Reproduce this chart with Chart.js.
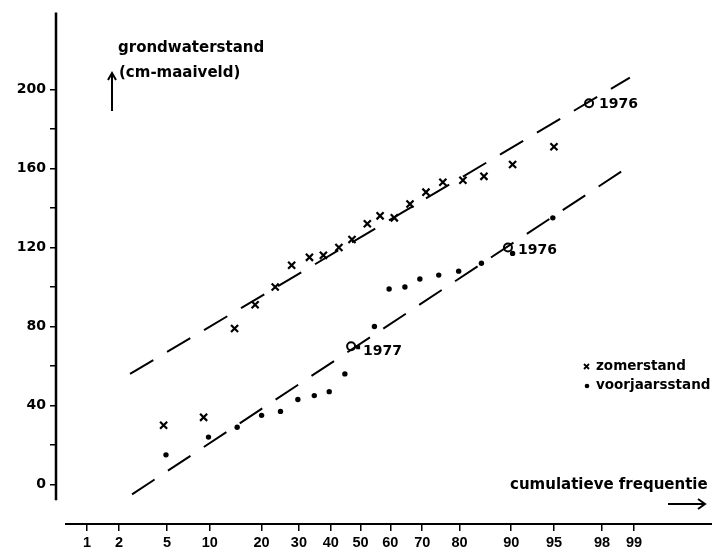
<!DOCTYPE html>
<html lang="nl">
<head>
    <meta charset="UTF-8">
    <title>Grondwaterstand - cumulatieve frequentie</title>
    <script src="https://cdn.jsdelivr.net/npm/chart.js"></script>
    <style>
        html, body {
            margin: 0;
            padding: 0;
            background: #ffffff;
        }
        .chart-container {
            width: 727px;
            height: 558px;
        }
        canvas {
            width: 727px !important;
            height: 558px !important;
        }
    </style>
</head>
<body>
    <div class="chart-container">
        <canvas id="gwChart" width="727" height="558"></canvas>
    </div>

    <script>
        // cumulatieve frequentie (%) and grondwaterstand (cm - maaiveld)
        const summerFreq = [4.7, 9.1, 14.2, 18.5, 23.4, 27.9, 33.2, 37.6, 42.7, 47.1, 52.3, 56.6, 61.3, 66.3, 71.1, 75.8, 80.8, 85.3, 90.2, 95.0];
        const summerLevel = [30, 34, 79, 91, 100, 111, 115, 116, 120, 124, 132, 136, 135, 142, 148, 153, 154, 156, 162, 171];

        const springFreq = [4.9, 9.8, 14.7, 20.0, 24.8, 29.7, 34.7, 39.5, 44.7, 54.7, 59.6, 64.7, 69.3, 74.7, 79.8, 84.8, 90.2, 94.9];
        const springLevel = [15, 24, 29, 35, 37, 43, 45, 47, 56, 80, 99, 100, 104, 106, 108, 112, 117, 135];

        // marked years (open circles)
        const yearLabels = ['1976', '1976', '1977'];
        const yearFreq = [97.4, 89.5, 46.8];
        const yearLevel = [193, 120, 70];

        // dashed lines drawn by hand through the points
        const summerLineFreq = [2.5, 98.9];
        const summerLineLevel = [56, 206];
        const springLineFreq = [2.6, 98.8];
        const springLineLevel = [-5, 160];

        const freqTicks = [1, 2, 5, 10, 20, 30, 40, 50, 60, 70, 80, 90, 95, 98, 99];
        const levelTicks = [0, 20, 40, 60, 80, 100, 120, 140, 160, 180, 200];

        // inverse normal cdf (Acklam), used for the probability scale
        function probit(p) {
            const a = [-39.69683028665376, 220.9460984245205, -275.9285104469687, 138.3577518672690, -30.66479806614716, 2.506628277459239];
            const b = [-54.47609879822406, 161.5858368580409, -155.6989798598866, 66.80131188771972, -13.28068155288572];
            const c = [-0.007784894002430293, -0.3223964580411365, -2.400758277161838, -2.549732539343734, 4.374664141464968, 2.938163982698783];
            const d = [0.007784695709041462, 0.3224671290700398, 2.445134137142996, 3.754408661907416];
            const pl = 0.02425;
            if (p < pl) {
                const q = Math.sqrt(-2 * Math.log(p));
                return (((((c[0] * q + c[1]) * q + c[2]) * q + c[3]) * q + c[4]) * q + c[5]) / ((((d[0] * q + d[1]) * q + d[2]) * q + d[3]) * q + 1);
            }
            if (p > 1 - pl) {
                const q = Math.sqrt(-2 * Math.log(1 - p));
                return -(((((c[0] * q + c[1]) * q + c[2]) * q + c[3]) * q + c[4]) * q + c[5]) / ((((d[0] * q + d[1]) * q + d[2]) * q + d[3]) * q + 1);
            }
            const q = p - 0.5;
            const r = q * q;
            return (((((a[0] * r + a[1]) * r + a[2]) * r + a[3]) * r + a[4]) * r + a[5]) * q / (((((b[0] * r + b[1]) * r + b[2]) * r + b[3]) * r + b[4]) * r + 1);
        }

        const toPoints = (freq, level) => freq.map((f, i) => ({ x: probit(f / 100), y: level[i] }));

        const FONT = 'DejaVu Sans';

        // axis lines, titles, arrows, year labels and key
        const decorations = {
            id: 'decorations',
            afterDatasetsDraw(chart) {
                const ctx = chart.ctx;
                const area = chart.chartArea;
                const xs = chart.scales.x;
                const ys = chart.scales.y;
                ctx.save();
                ctx.strokeStyle = '#000';
                ctx.fillStyle = '#000';

                // y axis line
                ctx.lineWidth = 2.5;
                ctx.beginPath();
                ctx.moveTo(area.left, ys.getPixelForValue(239));
                ctx.lineTo(area.left, ys.getPixelForValue(-8));
                ctx.stroke();

                // x axis line
                ctx.lineWidth = 2;
                ctx.beginPath();
                ctx.moveTo(area.left + 9, area.bottom);
                ctx.lineTo(area.right, area.bottom);
                ctx.stroke();

                // y title with arrow
                ctx.font = 'bold 15px ' + FONT;
                ctx.textAlign = 'left';
                ctx.textBaseline = 'alphabetic';
                ctx.fillText('grondwaterstand', 118, 52);
                ctx.fillText('(cm-maaiveld)', 119, 77);
                ctx.lineWidth = 2;
                ctx.beginPath();
                ctx.moveTo(112, 111);
                ctx.lineTo(112, 74);
                ctx.moveTo(108, 80);
                ctx.lineTo(112, 73);
                ctx.lineTo(116, 80);
                ctx.stroke();

                // x title with arrow
                ctx.fillText('cumulatieve frequentie', 510, 489);
                ctx.beginPath();
                ctx.moveTo(668, 504);
                ctx.lineTo(705, 504);
                ctx.moveTo(698, 499);
                ctx.lineTo(705, 504);
                ctx.lineTo(698, 509);
                ctx.stroke();

                // year labels next to the open circles
                ctx.font = 'bold 14px ' + FONT;
                ctx.textBaseline = 'middle';
                const offsets = [[10, 1], [10, 3], [12, 5]];
                yearLabels.forEach((lab, i) => {
                    const px = xs.getPixelForValue(probit(yearFreq[i] / 100));
                    const py = ys.getPixelForValue(yearLevel[i]);
                    ctx.fillText(lab, px + offsets[i][0], py + offsets[i][1]);
                    if (lab === '1977') {
                        ctx.fillRect(px + 5, py - 1, 4, 4);
                    }
                });

                // key
                ctx.font = 'bold 13.5px ' + FONT;
                ctx.lineWidth = 1.8;
                ctx.beginPath();
                ctx.moveTo(584, 364);
                ctx.lineTo(589, 369);
                ctx.moveTo(589, 364);
                ctx.lineTo(584, 369);
                ctx.stroke();
                ctx.fillText('zomerstand', 596, 366);
                ctx.beginPath();
                ctx.arc(587, 386, 2.3, 0, Math.PI * 2);
                ctx.fill();
                ctx.fillText('voorjaarsstand', 596, 385);

                ctx.restore();
            }
        };

        const lineStyle = {
            type: 'line',
            showLine: true,
            borderColor: '#000',
            borderWidth: 2,
            borderDash: [27, 16],
            pointRadius: 0,
            fill: false
        };

        const canvas = document.getElementById('gwChart');
        canvas.width = 727;
        canvas.height = 558;
        const ctx = canvas.getContext('2d');
        const gwChart = new Chart(ctx, {
            type: 'scatter',
            data: {
                datasets: [
                    Object.assign({ label: 'lijn zomer', data: toPoints(summerLineFreq, summerLineLevel) }, lineStyle),
                    Object.assign({ label: 'lijn voorjaar', data: toPoints(springLineFreq, springLineLevel) }, lineStyle),
                    {
                        label: 'zomerstand',
                        data: toPoints(summerFreq, summerLevel),
                        pointStyle: 'crossRot',
                        pointRadius: 5,
                        borderColor: '#000',
                        borderWidth: 2.2
                    },
                    {
                        label: 'voorjaarsstand',
                        data: toPoints(springFreq, springLevel),
                        pointStyle: 'circle',
                        pointRadius: 2.7,
                        backgroundColor: '#000',
                        borderColor: '#000',
                        borderWidth: 0
                    },
                    {
                        label: 'jaren',
                        data: toPoints(yearFreq, yearLevel),
                        pointStyle: 'circle',
                        pointRadius: 4,
                        backgroundColor: '#fff',
                        borderColor: '#000',
                        borderWidth: 2
                    }
                ]
            },
            options: {
                responsive: false,
                maintainAspectRatio: false,
                animation: false,
                devicePixelRatio: 1,
                layout: { padding: { top: 10, right: 15, left: 0, bottom: 0 } },
                plugins: {
                    legend: { display: false },
                    tooltip: { enabled: false },
                    title: { display: false }
                },
                scales: {
                    x: {
                        type: 'linear',
                        min: probit(0.0048),
                        max: probit(0.9986),
                        afterBuildTicks: s => { s.ticks = freqTicks.map(f => ({ value: probit(f / 100) })); },
                        afterFit: s => { s.height = 34; },
                        border: { display: false },
                        grid: { drawOnChartArea: false, drawTicks: true, tickLength: 7, color: '#000', lineWidth: 1.5 },
                        ticks: {
                            autoSkip: false,
                            maxRotation: 0,
                            padding: 3,
                            color: '#000',
                            font: { family: 'Liberation Sans', size: 14.5, weight: 'bold' },
                            callback: (v, i) => String(freqTicks[i])
                        }
                    },
                    y: {
                        min: -20,
                        max: 239,
                        afterBuildTicks: s => { s.ticks = levelTicks.map(v => ({ value: v })); },
                        afterFit: s => { s.width = 56; },
                        border: { display: false },
                        grid: { drawOnChartArea: false, drawTicks: true, tickLength: 6, color: '#000', lineWidth: 1.5 },
                        ticks: {
                            padding: 4,
                            color: '#000',
                            font: { family: FONT, size: 14, weight: 'bold' },
                            callback: v => (v % 40 === 0 ? String(v) : '')
                        }
                    }
                }
            },
            plugins: [decorations]
        });
    </script>
</body>
</html>
